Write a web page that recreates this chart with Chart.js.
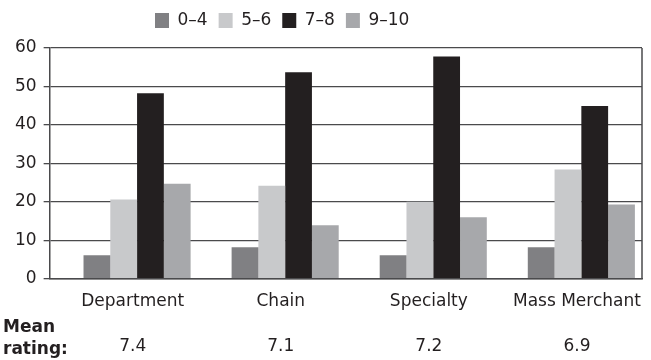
<!DOCTYPE html>
<html>
<head>
<meta charset="utf-8">
<script src="https://cdn.jsdelivr.net/npm/chart.js@4.4.1/dist/chart.umd.min.js"></script>
<style>
    html, body { margin: 0; padding: 0; background: #fff; }
    #wrap { width: 651px; height: 360px; }
</style>
</head>
<body>
<div id="wrap"><canvas id="chart" width="651" height="360"></canvas></div>
<script>
// Veriler
const categories = ['Department', 'Chain', 'Specialty', 'Mass Merchant'];
const meanRatings = ['7.4', '7.1', '7.2', '6.9'];
const ratingGroups = ['0–4', '5–6', '7–8', '9–10'];
const share04 = [6.1, 8.2, 6.1, 8.2];
const share56 = [20.6, 24.2, 20.0, 28.4];
const share78 = [48.2, 53.7, 57.8, 44.9];
const share910 = [24.7, 13.9, 16.0, 19.3];
const yMin = 0;
const yMax = 60;
const yStep = 10;

const colors = ['#808083', '#c8c9cb', '#231f20', '#a7a8ab'];
const lineColor = '#4a4a4c';
const textColor = '#231f20';
const fontFamily = '"DejaVu Sans", sans-serif';

// Legend altına boşluk ekle ve yatay konumunu ayarla
const legendSpacer = {
    id: 'legendSpacer',
    beforeInit(chart) {
        const fit = chart.legend.fit;
        chart.legend.fit = function () {
            fit.bind(chart.legend)();
            this.height += 9;
        };
    },
    afterLayout(chart) {
        chart.legend.left += 136;
        chart.legend.right += 136;
    }
};

// Çerçeve ve "Mean rating:" yazısı
const framePlugin = {
    id: 'frame',
    afterDraw(chart) {
        const { ctx, chartArea } = chart;
        ctx.save();
        ctx.strokeStyle = lineColor;
        ctx.lineWidth = 1.5;
        ctx.beginPath();
        ctx.moveTo(chartArea.right, chartArea.top);
        ctx.lineTo(chartArea.right, chartArea.bottom);
        ctx.stroke();

        ctx.fillStyle = textColor;
        ctx.font = 'bold 17px ' + fontFamily;
        ctx.textAlign = 'left';
        ctx.textBaseline = 'middle';
        ctx.fillText('Mean', 3, 328);
        ctx.fillText('rating:', 3, 350);
        ctx.restore();
    }
};

const datasets = [
    // boş aralık (çubukları sağa kaydırmak için)
    { label: '', data: categories.map(() => null), backgroundColor: 'rgba(0,0,0,0)' },
    { label: ratingGroups[0], data: share04, backgroundColor: colors[0] },
    { label: ratingGroups[1], data: share56, backgroundColor: colors[1] },
    { label: ratingGroups[2], data: share78, backgroundColor: colors[2] },
    { label: ratingGroups[3], data: share910, backgroundColor: colors[3] }
];

const ctx = document.getElementById('chart').getContext('2d');
new Chart(ctx, {
    type: 'bar',
    data: {
        labels: categories.map((c, i) => [c, '', meanRatings[i]]),
        datasets: datasets
    },
    options: {
        responsive: false,
        animation: false,
        categoryPercentage: 0.904,
        barPercentage: 1.0,
        borderWidth: 0,
        layout: {
            padding: { top: 1, left: 8, right: 9, bottom: -10 }
        },
        plugins: {
            legend: {
                position: 'top',
                align: 'start',
                labels: {
                    boxWidth: 14,
                    boxHeight: 15,
                    padding: 11,
                    color: textColor,
                    font: { family: fontFamily, size: 17 },
                    filter: item => item.text !== ''
                }
            },
            tooltip: { enabled: false }
        },
        scales: {
            x: {
                grid: { display: false, drawTicks: false },
                border: { color: lineColor, width: 1.5 },
                ticks: {
                    color: textColor,
                    padding: 12,
                    labelOffset: 9,
                    maxRotation: 0,
                    autoSkip: false,
                    font: { family: fontFamily, size: 17, lineHeight: 1.32 }
                }
            },
            y: {
                min: yMin,
                max: yMax,
                grid: {
                    color: lineColor,
                    lineWidth: 1.3,
                    tickLength: 6,
                    tickColor: lineColor
                },
                border: { color: lineColor, width: 1.5 },
                ticks: {
                    stepSize: yStep,
                    color: textColor,
                    padding: 7,
                    font: { family: fontFamily, size: 17 }
                }
            }
        }
    },
    plugins: [legendSpacer, framePlugin]
});
</script>
</body>
</html>
